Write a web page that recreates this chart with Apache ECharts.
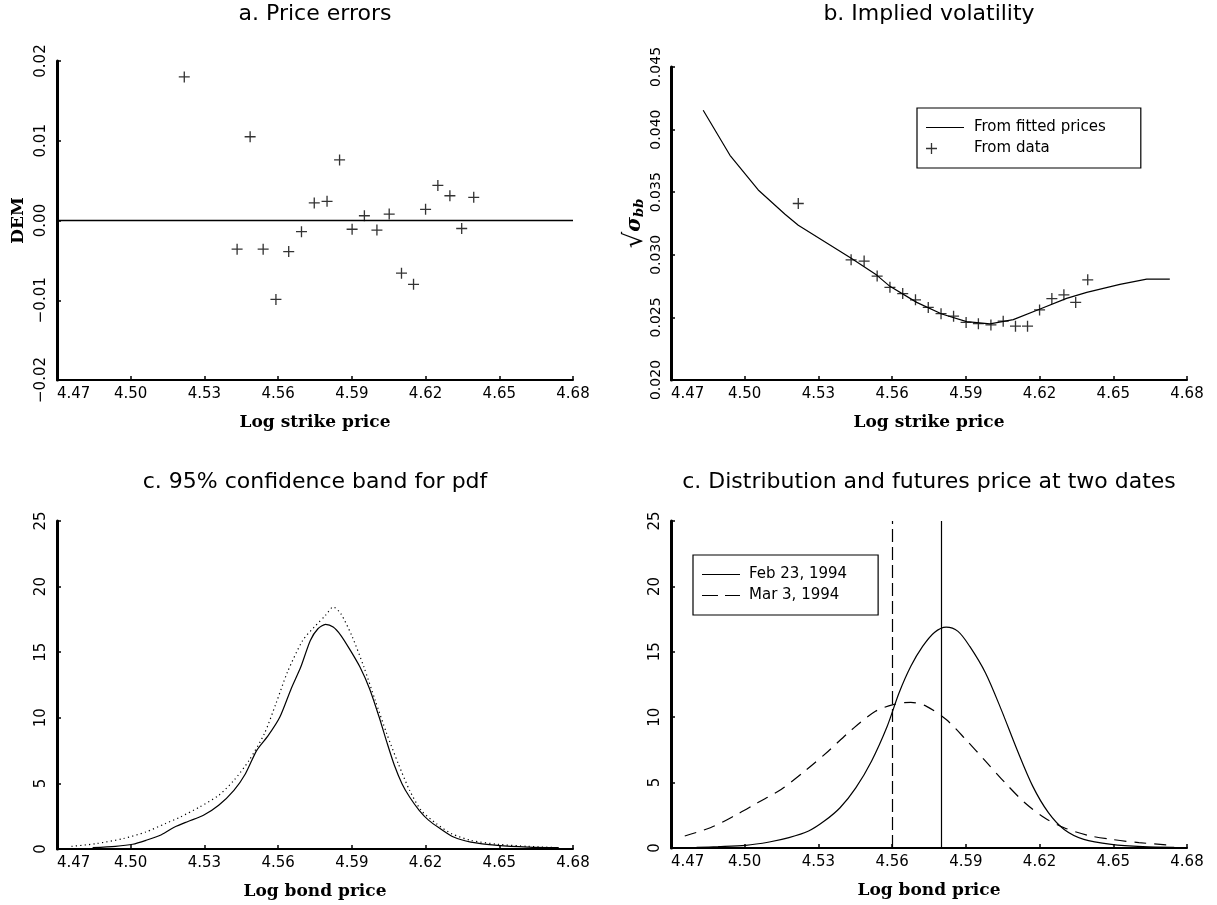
<!DOCTYPE html>
<html>
<head>
<meta charset="utf-8">
<script src="https://cdn.jsdelivr.net/npm/echarts@6/dist/echarts.min.js"></script>
<style>
html,body{margin:0;padding:0;background:#fff;}
#chart{width:1217px;height:905px;}
</style>
</head>
<body>
<div id="chart"></div>
<script>
// ---------- tick labels ----------
const xTicks = [4.47, 4.50, 4.53, 4.56, 4.59, 4.62, 4.65, 4.68];
const yTicksA = [-0.02, -0.01, 0.00, 0.01, 0.02];
const yTicksB = [0.020, 0.025, 0.030, 0.035, 0.040, 0.045];
const yTicksPdf = [0, 5, 10, 15, 20, 25];

// ---------- panel a: price errors ----------
const strikeA = [4.5218, 4.5433, 4.5486, 4.5539, 4.5591, 4.5643, 4.5695, 4.5747, 4.5799, 4.5850, 4.5901,
                 4.5951, 4.6002, 4.6052, 4.6102, 4.6151, 4.6200, 4.6250, 4.6299, 4.6347, 4.6396];
const priceErr = [0.0180, -0.0036, 0.0105, -0.0036, -0.0099, -0.0039, -0.0014, 0.0022, 0.0024, 0.0076, -0.0011,
                  0.0006, -0.0012, 0.0008, -0.0066, -0.0080, 0.0014, 0.0044, 0.0031, -0.0010, 0.0029];

// ---------- panel b: implied volatility ----------
const volData = [0.0341, 0.0296, 0.0295, 0.0283, 0.0274, 0.0269, 0.0264, 0.0258, 0.0253, 0.0251, 0.0246,
                 0.0245, 0.0244, 0.0247, 0.0243, 0.0243, 0.0256, 0.0265, 0.0268, 0.0262, 0.0280];
const fitX = [4.4831, 4.4940, 4.5055, 4.5164, 4.5218, 4.5435, 4.5537, 4.5591, 4.5700, 4.5802, 4.5903,
              4.5998, 4.6093, 4.6202, 4.6310, 4.6392, 4.6527, 4.6636, 4.6730];
const fitY = [0.04155, 0.03795, 0.03518, 0.03324, 0.03236, 0.02970, 0.02838, 0.02748, 0.02620, 0.02527, 0.02466,
              0.02448, 0.02482, 0.02567, 0.02652, 0.02700, 0.02764, 0.02806, 0.02806];

// ---------- panel c: confidence band for pdf ----------
const pdfX = [4.4845, 4.4938, 4.5008, 4.5062, 4.5125, 4.5179, 4.5233, 4.5296, 4.5358, 4.5420, 4.5467, 4.5513,
              4.5560, 4.5607, 4.5653, 4.5692, 4.5731, 4.5762, 4.5793, 4.5824, 4.5855, 4.5894, 4.5933, 4.5972,
              4.6011, 4.6042, 4.6073, 4.6104, 4.6135, 4.6174, 4.6213, 4.6260, 4.6314, 4.6384, 4.6493, 4.6617, 4.6742];
const pdfY = [0.10, 0.20, 0.36, 0.66, 1.09, 1.68, 2.10, 2.57, 3.33, 4.47, 5.74, 7.52,
              8.66, 10.06, 12.22, 13.87, 15.90, 16.79, 17.12, 16.92, 16.29, 15.14, 13.87, 12.22,
              10.06, 8.16, 6.38, 4.98, 3.96, 2.95, 2.18, 1.55, 0.91, 0.53, 0.28, 0.15, 0.10];
const bandX = [4.4759, 4.4860, 4.4969, 4.5062, 4.5140, 4.5202, 4.5280, 4.5358, 4.5420, 4.5482, 4.5544, 4.5591,
               4.5638, 4.5700, 4.5747, 4.5793, 4.5824, 4.5855, 4.5902, 4.5949, 4.5995, 4.6042, 4.6089, 4.6135,
               4.6182, 4.6244, 4.6306, 4.6384, 4.6493, 4.6617, 4.6742];
const bandY = [0.20, 0.41, 0.79, 1.30, 1.93, 2.44, 3.20, 4.09, 5.23, 6.76, 8.79, 11.08,
               13.49, 15.90, 16.92, 17.81, 18.45, 17.94, 16.16, 13.87, 11.33, 8.79, 6.50, 4.47,
               2.95, 1.93, 1.17, 0.66, 0.36, 0.20, 0.10];

// ---------- panel d: two dates ----------
const febX = [4.4804, 4.4892, 4.5004, 4.5100, 4.5180, 4.5260, 4.5324, 4.5388, 4.5452, 4.5516, 4.5580, 4.5628,
              4.5676, 4.5724, 4.5772, 4.5820, 4.5868, 4.5916, 4.5980, 4.6044, 4.6108, 4.6172, 4.6236, 4.6300,
              4.6380, 4.6492, 4.6620, 4.6748];
const febY = [0.05, 0.10, 0.20, 0.46, 0.79, 1.30, 2.06, 3.08, 4.60, 6.64, 9.31, 11.85,
              13.89, 15.41, 16.48, 16.89, 16.56, 15.41, 13.38, 10.58, 7.53, 4.73, 2.70, 1.42,
              0.66, 0.28, 0.10, 0.05];
const marX = [4.4756, 4.4860, 4.4956, 4.5052, 4.5148, 4.5244, 4.5340, 4.5436, 4.5532, 4.5604, 4.5676, 4.5740,
              4.5820, 4.5900, 4.5980, 4.6060, 4.6140, 4.6220, 4.6300, 4.6396, 4.6492, 4.6604, 4.6748];
const marY = [0.92, 1.55, 2.44, 3.46, 4.48, 5.87, 7.40, 9.05, 10.45, 10.96, 11.14, 10.83,
              9.82, 8.29, 6.64, 4.98, 3.46, 2.31, 1.55, 0.97, 0.66, 0.41, 0.20];
const futuresFeb = 4.582;
const futuresMar = 4.5631;

// ---------- helpers ----------
const zip = (xs, ys) => xs.map((x, i) => [x, ys[i]]);
const PLUS = 'path://M4.4,0 L5.6,0 L5.6,4.4 L10,4.4 L10,5.6 L5.6,5.6 L5.6,10 L4.4,10 L4.4,5.6 L0,5.6 L0,4.4 L4.4,4.4 Z';
const CORNERS = ' M37.9,0 L38,0 L38,0.1 Z M0,14 L0.1,14 L0,13.9 Z';
const PLUS_LEGEND = 'path://M4.85,1.5 L6.15,1.5 L6.15,6.35 L11,6.35 L11,7.65 L6.15,7.65 L6.15,12.5 L4.85,12.5 L4.85,7.65 L0,7.65 L0,6.35 L4.85,6.35 Z' + CORNERS;
const LINE_LEGEND = 'path://M0,6.4 L38,6.4 L38,7.6 L0,7.6 Z' + CORNERS;
const DASH_LEGEND = 'path://M0,6.4 L16,6.4 L16,7.6 L0,7.6 Z M23,6.4 L38,6.4 L38,7.6 L23,7.6 Z' + CORNERS;
const fmt = d => v => {
  if (Math.abs(v) < 1e-12) v = 0;
  return v.toFixed(d).replace('-', '\u2212');
};
const AXIS_NAME = {fontFamily: 'DejaVu Serif', fontWeight: 'bold', fontSize: 17, color: '#000'};

function xAxisFor(gi, name) {
  return {
    type: 'value', gridIndex: gi,
    min: xTicks[0], max: xTicks[xTicks.length - 1], interval: xTicks[1] - xTicks[0],
    name: name, nameLocation: 'middle', nameGap: 34, nameTextStyle: AXIS_NAME,
    axisLine: {show: true, onZero: false, lineStyle: {color: '#000', width: 2}},
    axisTick: {show: true, inside: true, length: 4, lineStyle: {color: '#000', width: 1.5}},
    axisLabel: {color: '#000', fontSize: 15, margin: 7, formatter: fmt(2),
                showMinLabel: true, showMaxLabel: true, alignMinLabel: 'left'},
    splitLine: {show: false}
  };
}
function yAxisFor(gi, ticks, dec, fontSize, name, nameGap, nameStyle) {
  return {
    type: 'value', gridIndex: gi,
    min: ticks[0], max: ticks[ticks.length - 1], interval: ticks[1] - ticks[0],
    name: name || '', nameLocation: 'middle', nameRotate: 90, nameGap: nameGap || 30,
    nameTextStyle: nameStyle || AXIS_NAME,
    axisLine: {show: true, onZero: false, lineStyle: {color: '#000', width: 3}},
    axisTick: {show: true, inside: true, length: 4, lineStyle: {color: '#000', width: 1.5}},
    axisLabel: {color: '#000', fontSize: fontSize, rotate: 90, margin: 8, formatter: fmt(dec),
                showMinLabel: true, showMaxLabel: true},
    splitLine: {show: false}
  };
}

const chart = echarts.init(document.getElementById('chart'), null, {renderer: 'canvas'});
const titleStyle = {fontFamily: 'DejaVu Sans', fontSize: 22, fontWeight: 'normal', color: '#000'};

const option = {
  animation: false,
  backgroundColor: '#fff',
  textStyle: {fontFamily: 'DejaVu Sans', color: '#000'},
  title: [
    {text: 'a. Price errors', left: 315, top: 3, textAlign: 'center', padding: 0, textStyle: titleStyle},
    {text: 'b. Implied volatility', left: 929, top: 3, textAlign: 'center', padding: 0, textStyle: titleStyle},
    {text: 'c. 95% confidence band for pdf', left: 315, top: 471, textAlign: 'center', padding: 0, textStyle: titleStyle},
    {text: 'c. Distribution and futures price at two dates', left: 929, top: 471, textAlign: 'center', padding: 0, textStyle: titleStyle}
  ],
  grid: [
    {left: 57, top: 61, width: 516, height: 319},
    {left: 671, top: 67, width: 516, height: 313},
    {left: 57, top: 521, width: 516, height: 328},
    {left: 671, top: 521, width: 516, height: 327}
  ],
  xAxis: [
    xAxisFor(0, 'Log strike price'),
    xAxisFor(1, 'Log strike price'),
    xAxisFor(2, 'Log bond price'),
    xAxisFor(3, 'Log bond price')
  ],
  yAxis: [
    yAxisFor(0, yTicksA, 2, 15, 'DEM', 30),
    yAxisFor(1, yTicksB, 3, 14, '{r|\u221A}{s|\u03C3}{b|bb}', 22, {
      color: '#000',
      rich: {
        r: {fontFamily: 'DejaVu Sans', fontSize: 26, color: '#000'},
        s: {fontFamily: 'DejaVu Serif', fontSize: 20, fontStyle: 'italic', fontWeight: 'bold', color: '#000'},
        b: {fontFamily: 'DejaVu Serif', fontSize: 13, fontStyle: 'italic', fontWeight: 'bold', color: '#000', padding: [10, 0, 0, 0]}
      }
    }),
    yAxisFor(2, yTicksPdf, 0, 15),
    yAxisFor(3, yTicksPdf, 0, 15)
  ],
  legend: [
    {
      orient: 'vertical', left: 917, top: 108, padding: [12, 35, 12, 9], itemGap: 6,
      itemWidth: 38, itemHeight: 14, borderColor: '#000', borderWidth: 1.2, borderRadius: 0,
      backgroundColor: '#fff', selectedMode: false,
      textStyle: {fontSize: 15, color: '#000', padding: [0, 0, 0, 5]},
      data: [{name: 'From fitted prices', icon: LINE_LEGEND}, {name: 'From data', icon: PLUS_LEGEND}]
    },
    {
      orient: 'vertical', left: 693, top: 555, padding: [12, 31, 12, 9], itemGap: 6,
      itemWidth: 38, itemHeight: 14, borderColor: '#000', borderWidth: 1.2, borderRadius: 0,
      backgroundColor: '#fff', selectedMode: false,
      textStyle: {fontSize: 15, color: '#000', padding: [0, 0, 0, 4]},
      data: [{name: 'Feb 23, 1994', icon: LINE_LEGEND}, {name: 'Mar 3, 1994', icon: DASH_LEGEND}]
    }
  ],
  series: [
    {
      name: 'Price errors', type: 'scatter', xAxisIndex: 0, yAxisIndex: 0,
      data: zip(strikeA, priceErr), symbol: PLUS, symbolSize: 11,
      itemStyle: {color: '#000'}, silent: true,
      markLine: {silent: true, symbol: ['none', 'none'], label: {show: false},
                 lineStyle: {color: '#000', width: 1.3, type: 'solid'}, data: [{yAxis: 0}]}
    },
    {
      name: 'From fitted prices', type: 'line', xAxisIndex: 1, yAxisIndex: 1,
      data: zip(fitX, fitY), symbol: 'none', smooth: false,
      lineStyle: {color: '#000', width: 1.2}, itemStyle: {color: '#000'}, silent: true
    },
    {
      name: 'From data', type: 'scatter', xAxisIndex: 1, yAxisIndex: 1,
      data: zip(strikeA, volData), symbol: PLUS, symbolSize: 11,
      itemStyle: {color: '#000'}, silent: true
    },
    {
      name: 'Estimated pdf', type: 'line', xAxisIndex: 2, yAxisIndex: 2,
      data: zip(pdfX, pdfY), symbol: 'none', smooth: 0.25,
      lineStyle: {color: '#000', width: 1.2}, silent: true
    },
    {
      name: 'Upper band', type: 'line', xAxisIndex: 2, yAxisIndex: 2,
      data: zip(bandX, bandY), symbol: 'none', smooth: 0.25,
      lineStyle: {color: '#000', width: 1.2, type: [1.2, 3.2]}, silent: true
    },
    {
      name: 'Feb 23, 1994', type: 'line', xAxisIndex: 3, yAxisIndex: 3,
      data: zip(febX, febY), symbol: 'none', smooth: 0.3,
      lineStyle: {color: '#000', width: 1.2}, itemStyle: {color: '#000'}, silent: true,
      markLine: {silent: true, symbol: ['none', 'none'], label: {show: false},
                 lineStyle: {color: '#000', width: 1.2, type: 'solid'}, data: [{xAxis: futuresFeb}]}
    },
    {
      name: 'Mar 3, 1994', type: 'line', xAxisIndex: 3, yAxisIndex: 3,
      data: zip(marX, marY), symbol: 'none', smooth: 0.3,
      lineStyle: {color: '#000', width: 1.2, type: [12, 8]}, itemStyle: {color: '#000'}, silent: true,
      markLine: {silent: true, symbol: ['none', 'none'], label: {show: false},
                 lineStyle: {color: '#000', width: 1.2, type: [13, 5]}, data: [{xAxis: futuresMar}]}
    }
  ]
};
chart.setOption(option);
</script>
</body>
</html>
